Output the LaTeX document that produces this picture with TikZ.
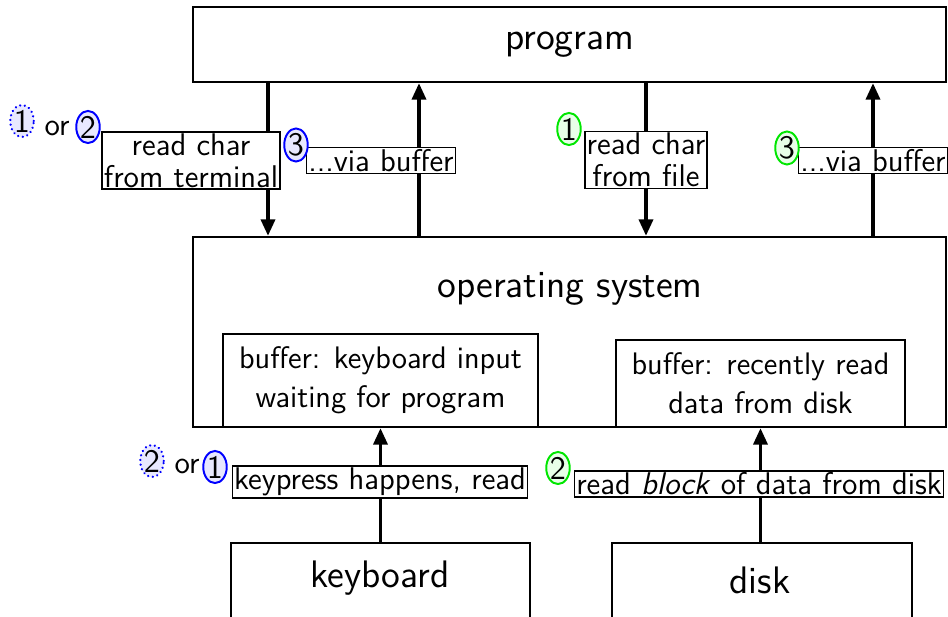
\documentclass[tikz,border=0pt]{standalone}
\usetikzlibrary{arrows.meta,shapes.geometric}
\renewcommand{\familydefault}{\sfdefault}
\definecolor{numblue}{RGB}{0,0,255}
\definecolor{numgreen}{RGB}{0,230,0}
\definecolor{fillblue}{RGB}{232,232,255}
\definecolor{fillgreen}{RGB}{232,255,232}
\begin{document}
\begin{tikzpicture}[x=0.36pt,y=-0.36pt,
  box/.style={draw, line width=0.75pt, inner sep=0pt},
  bigtxt/.style={font=\fontsize{13.8}{16}\selectfont},
  lbl/.style={draw, fill=white, line width=0.6pt, inner sep=0.6pt, align=center, font=\fontsize{11.3}{11.4}\selectfont},
  arr/.style={line width=1.4pt, -{Triangle[width=5pt,length=6pt]}},
  num/.style={ellipse, draw=numblue, fill=fillblue, line width=0.7pt, inner sep=0.1pt, font=\fontsize{11.8}{13}\selectfont},
  numd/.style={num, line width=0.9pt, dash pattern=on 0.01pt off 1.7pt, line cap=round},
  numg/.style={num, draw=numgreen, fill=fillgreen},
  ortxt/.style={inner sep=0pt, font=\fontsize{11.3}{13}\selectfont}]
\useasboundingbox (0,0) rectangle (948,617);
\clip (0,0) rectangle (948,617);
% main boxes
\node[box, minimum width=271.08pt, minimum height=27pt, bigtxt] (prog) at (569.5,44.5) {program};
\node[box, minimum width=271.08pt, minimum height=68.4pt] (os) at (569.5,332) {};
\node[bigtxt] (ost) at (570,289) {operating system};
\node[box, minimum width=113.4pt, minimum height=33.48pt, align=center, font=\fontsize{11.2}{14}\selectfont] (buf1) at (380.5,380.5) {buffer: keyboard input\\waiting for program};
\node[box, minimum width=104.04pt, minimum height=31.32pt, align=center, font=\fontsize{11.2}{14}\selectfont] (buf2) at (760.5,383.5) {buffer: recently read\\data from disk};
\node[box, minimum width=107.64pt, minimum height=34.92pt] (kb) at (380.5,591.5) {};
\node[bigtxt] (kbt) at (380,578) {keyboard};
\node[box, minimum width=108pt, minimum height=34.92pt] (disk) at (762,591.5) {};
\node[bigtxt] (diskt) at (760,580) {disk};
% arrow columns
\coordinate (a1) at (268,0);
\coordinate (a2) at (419,0);
\coordinate (a3) at (646,0);
\coordinate (a4) at (873,0);
\draw[arr] (prog.south -| a1) -- (os.north -| a1);
\draw[arr] (os.north -| a2) -- (prog.south -| a2);
\draw[arr] (prog.south -| a3) -- (os.north -| a3);
\draw[arr] (os.north -| a4) -- (prog.south -| a4);
\draw[arr] (kb.north -| buf1.south) -- (buf1.south);
\draw[arr] (disk.north -| buf2.south) -- (buf2.south);
% labels
\node[lbl] (l1) at (191,160.5) {read char\\from terminal};
\node[lbl] (l2) at (381,160.5) {...via buffer};
\node[lbl] (l3) at (646,160) {read char\\from file};
\node[lbl] (l4) at (873,160.5) {...via buffer};
\node[lbl] (l5) at (380,482) {keypress happens, read};
\node[lbl] (l6) at (759,484) {read \emph{block} of data from disk};
% step numbers
\node[numd] (n1) at (22,121) {1};
\node[ortxt] (or1) at (57,128) {or};
\node[num] (n2) at (88,127) {2};
\node[num] (n3) at (296,145) {3};
\node[numg] (g1) at (569,129) {1};
\node[numg] (g3) at (787,148) {3};
\node[numd] (m2) at (152,461) {2};
\node[ortxt] (or2) at (187,466) {or};
\node[num] (m1) at (215,467) {1};
\node[numg] (g2) at (558,468) {2};
\end{tikzpicture}
\end{document}
